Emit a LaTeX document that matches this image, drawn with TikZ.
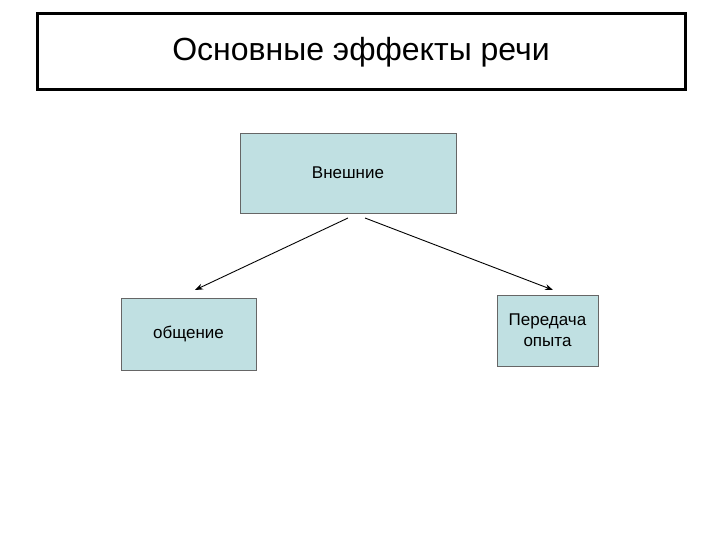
\documentclass[tikz,border=0pt]{standalone}
\usepackage{fontspec}
\setmainfont{Liberation Sans}
\usetikzlibrary{arrows.meta}
\definecolor{boxfill}{HTML}{C0E0E2}
\begin{document}
\begin{tikzpicture}[x=1pt,y=-1pt,
  box/.style={draw=black!60,fill=boxfill,line width=0.8pt,inner sep=0pt,align=center,font=\fontsize{17}{21}\selectfont},
  conn/.style={-{Stealth[length=8pt,width=6pt]},line width=0.9pt}]
\useasboundingbox (0,0) rectangle (720,540);
\node[draw=black,line width=3pt,minimum width=648pt,minimum height=76pt,inner sep=0pt,font=\fontsize{32}{36}\selectfont] (title) at (361,52) {Основные эффекты речи};
\node[box,minimum width=216pt,minimum height=80pt] (top) at (348,173) {Внешние};
\node[box,minimum width=135pt,minimum height=72pt] (left) at (188.5,334) {общение};
\node[box,minimum width=101pt,minimum height=71pt] (right) at (547.5,330.5) {Передача\\опыта};
\coordinate (s1) at (348,218);
\coordinate (e1) at (195,290);
\coordinate (s2) at (365,218);
\coordinate (e2) at (553,290);
\draw[conn] (s1) -- (e1);
\draw[conn] (s2) -- (e2);
\end{tikzpicture}
\end{document}
